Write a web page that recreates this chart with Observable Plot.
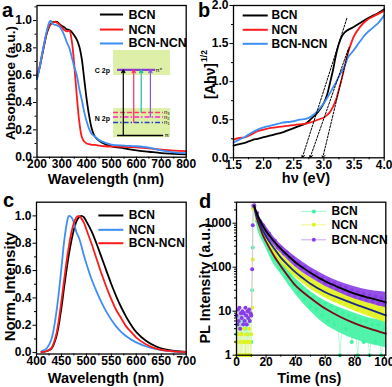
<!DOCTYPE html>
<html><head><meta charset="utf-8">
<script src="https://cdn.jsdelivr.net/npm/d3@7"></script>
<script src="https://cdn.jsdelivr.net/npm/@observablehq/plot@0.6"></script>
<style>
html,body{margin:0;padding:0;background:#fff;}
#fig{position:relative;width:392px;height:387px;overflow:hidden;background:#fff;}
.p{position:absolute;}
</style></head><body><div id="fig"></div>
<script>
// ---------- Panel a : UV-vis absorbance ----------
const seriesA = ["BCN", "NCN", "BCN-NCN"];
const wlA = [200,210,220,230,240,250,255,260,270,280,290,300,310,320,330,340,350,360,370,380,390,400,410,420,430,440,450,475,500,550,600,650,700,750,800];
const absBCN = [0.58,0.65,0.74,0.83,0.91,0.96,0.975,0.985,0.99,0.99,0.975,0.96,0.95,0.935,0.93,0.915,0.89,0.86,0.81,0.72,0.57,0.42,0.30,0.21,0.16,0.135,0.12,0.095,0.08,0.065,0.05,0.04,0.03,0.025,0.02];
const absNCN = [0.60,0.66,0.75,0.84,0.92,0.96,0.97,0.98,0.99,0.985,0.97,0.95,0.93,0.92,0.925,0.85,0.67,0.45,0.26,0.15,0.115,0.10,0.095,0.09,0.09,0.088,0.085,0.08,0.078,0.076,0.072,0.065,0.055,0.048,0.045];
const absBN  = [0.57,0.65,0.75,0.84,0.93,0.99,1.0,0.98,0.97,0.965,0.955,0.93,0.89,0.84,0.80,0.73,0.66,0.60,0.50,0.42,0.33,0.26,0.205,0.17,0.155,0.14,0.125,0.105,0.092,0.085,0.08,0.07,0.05,0.035,0.03];
// inset energy diagram (drawn in panel-a data units)
const insetBoxLabels = ["C 2p", "N 2p"];
const insetBoxTop = [0.781, 0.356], insetBoxBottom = [0.598, 0.144];
const levelNames = ["π*", "n₃", "n₂", "n₁", "π"];
const levelY = [0.639, 0.327, 0.294, 0.254, 0.159];
const arrowFromY = [0.159, 0.254, 0.327, 0.294];
const arrowX = [547, 589, 619, 656];

// ---------- Panel b : Tauc ----------
const seriesB = ["BCN", "NCN", "BCN-NCN"];
const eB = [1.5,1.6,1.7,1.8,1.9,2.0,2.1,2.2,2.3,2.4,2.5,2.6,2.7,2.8,2.9,3.0,3.05,3.1,3.15,3.2,3.25,3.3,3.35,3.4,3.45,3.5,3.6,3.7,3.8,3.9,4.0];
const taucBCN = [0.16,0.18,0.20,0.23,0.25,0.27,0.29,0.31,0.33,0.36,0.39,0.42,0.45,0.52,0.60,0.72,0.82,0.98,1.15,1.35,1.50,1.60,1.65,1.68,1.70,1.72,1.77,1.82,1.86,1.90,1.95];
const taucNCN = [0.24,0.26,0.27,0.31,0.35,0.37,0.39,0.40,0.41,0.42,0.43,0.44,0.45,0.47,0.50,0.53,0.56,0.60,0.67,0.76,0.90,1.05,1.22,1.38,1.50,1.60,1.72,1.80,1.85,1.89,1.93];
const taucBN  = [0.20,0.24,0.28,0.33,0.37,0.40,0.42,0.44,0.46,0.47,0.48,0.50,0.51,0.55,0.62,0.72,0.78,0.85,0.92,0.99,1.07,1.14,1.22,1.32,1.37,1.42,1.53,1.63,1.70,1.77,1.87];
const gapTopX = [3.38, 3.40, 3.42], gapTopY = [1.83, 1.42, 1.45];
const gapX = [2.64, 2.77, 2.98];

// ---------- Panel c : PL spectra ----------
const seriesC = ["BCN", "NCN", "BCN-NCN"];
const wlC = [410,420,430,440,450,455,460,465,470,475,480,485,490,495,500,510,520,530,540,550,560,570,580,590,600,620,640,660,680,700];
const plBCN = [0.005,0.01,0.03,0.12,0.33,0.47,0.60,0.72,0.82,0.90,0.96,0.99,1.0,0.99,0.96,0.89,0.80,0.70,0.60,0.50,0.41,0.33,0.26,0.20,0.15,0.085,0.045,0.022,0.01,0.005];
const plNCN = [0.01,0.03,0.10,0.30,0.62,0.80,0.93,1.0,0.99,0.95,0.88,0.84,0.78,0.71,0.65,0.54,0.45,0.37,0.30,0.24,0.19,0.15,0.12,0.095,0.075,0.045,0.025,0.013,0.007,0.003];
const plBN  = [0.005,0.01,0.035,0.14,0.38,0.52,0.66,0.78,0.88,0.95,0.99,1.0,0.98,0.95,0.90,0.80,0.69,0.58,0.48,0.39,0.31,0.25,0.19,0.15,0.11,0.06,0.03,0.015,0.007,0.003];

// ---------- Panel d : TRPL decay ----------
const seriesD = ["BCN", "NCN", "BCN-NCN"];
const tD = [0,0.5,1,1.5,2,2.5,3,3.5,4,4.5,5,5.5,6,6.5,7,7.5,8,8.5,9,9.5,10,10.6,11,11.4,12,14,16,18,20,22,24,26,28,30,32,34,36,38,40,42,44,46,48,50,52,54,56,58,60,62,64,66,68,70,72,74,76,78,80,82,84,86,88,90,92,94,96,98,100];
const cntBCN = [3,1,7,2,5,1,8,3,1,6,2,4,1,5,2,7,1,3,6,1,2, 30,280,2200, 2300,1100,830,470,410,260,250,150,150,90, 95,60,66,40,46,27,33,19,27,13, 21,11,17,8,15,6,13,5,11,1, 9,4,8,2,7,1,6,2,6,1, 5,2,5,1,4];
const cntNCN = [2,1,3,1,4,2,1,3,1,2,4,1,2,3,1,2,1,4,2,1,3, 12,150,2100, 2350,1250,1000,600,530,360,340,225,215,150, 150,108,108,80,82,60,64,48,51,38, 41,31,35,26,29,22,25,18,23,16, 20,15,18,13,16,11,15,10,13,9, 12,8,11,7,9];
const cntBN  = [8,5,11,6,12,4,9,7,10,5,9,6,12,8,5,10,7,11,6,9,8, 90,900,2500, 2550,1700,1100,900,620,580,420,400,280,280, 205,215,160,165,118,125,95,100,76,82, 62,68,52,57,44,49,38,43,33,38, 29,34,25,30,22,27,20,25,18,23, 17,22,15,20,15];
const tEnv = [12,15,20,25,30,40,50,60,70,80,90,101];
const envBCNhi = [2400,1000,450,230,140,55,28,17,12,9,7,6];
const envBCNlo = [2000,600,270,120,70,24,10,5,3.2,2.3,1.8,1.5];
const envNCNhi = [2500,1300,620,330,210,100,58,38,28,21,17,14];
const envNCNlo = [2200,850,380,200,125,58,32,20,14,10,7.5,5.5];
const envBNhi  = [2600,1500,850,500,330,170,100,65,46,36,30,27];
const envBNlo  = [2300,1000,520,320,210,100,58,37,26,19,15,12];
const tFit = [12,14,16,18,20,25,30,35,40,45,50,60,70,80,90,101];
const fitBN  = [2500,1600,1150,850,660,400,260,180,128,97,75,48,34,25,20,16];
const fitNCN = [2400,1400,950,660,500,280,165,110,76,56,42,27,19.5,14.5,11,8];
const fitBCN = [2400,1200,780,520,380,190,105,62,38,27,20,11.5,7.5,5.3,4,3.1];

// ---------- helpers ----------
const FONT = "'Liberation Sans', Arial, Helvetica, sans-serif";
const fig = document.getElementById("fig");
const zip = (xs, ys) => xs.map((x, i) => ({x, y: ys[i]}));
const f1 = d3.format(".1f");
function place(left, top, spec, texts) {
  const el = Plot.plot({...spec, style: {fontFamily: FONT, fontSize: "12px", fontWeight: "bold", background: "transparent", overflow: "visible", color: "black"}});
  const svg = d3.select(el);
  for (const t of texts) {
    svg.append("text")
      .attr("transform", `translate(${t.x},${t.y})` + (t.rotate ? ` rotate(${t.rotate})` : ""))
      .attr("text-anchor", t.anchor || "middle")
      .attr("dy", t.dy === undefined ? "0.35em" : t.dy)
      .attr("font-family", FONT).attr("font-weight", "bold")
      .attr("font-size", t.size).attr("fill", "black")
      .text(t.text);
  }
  const div = document.createElement("div");
  div.className = "p"; div.style.left = left + "px"; div.style.top = top + "px";
  div.appendChild(el); fig.appendChild(div);
}
function axes(xt, xm, yt, ym, xf, yf) {
  return [
    Plot.axisX({ticks: xm, tickSize: 2, tickFormat: () => "", label: null}),
    Plot.axisY({ticks: ym, tickSize: 2, tickFormat: () => "", label: null}),
    Plot.axisX({ticks: xt, tickSize: 3.5, tickFormat: () => "", label: null}),
    Plot.axisX({ticks: xt, tickSize: 0, tickPadding: 2.5, tickFormat: xf, label: null}),
    Plot.axisY({ticks: yt, tickSize: 3.5, tickPadding: 1.5, tickFormat: yf, label: null}),
    Plot.frame({strokeWidth: 1.3})
  ];
}

// ---------- Panel a ----------
place(0, 0, {
  width: 196, height: 193, marginLeft: 36.5, marginRight: 10.3, marginTop: 5, marginBottom: 36.3,
  x: {domain: [200, 800]}, y: {domain: [0, 1.11]},
  marks: [
    Plot.rect(insetBoxLabels, {x1: 508, x2: 737, y1: (d, i) => insetBoxBottom[i], y2: (d, i) => insetBoxTop[i], fill: "#def0a8"}),
    Plot.text(insetBoxLabels, {x: 463, y: (d, i) => i === 0 ? 0.634 : 0.283, text: d => d, fontSize: 7, fontWeight: "bold"}),
    Plot.ruleY([levelY[0]], {x1: 524, x2: 677, stroke: "#8a3fd0", strokeWidth: 2.2}),
    Plot.ruleY([levelY[1]], {x1: 508, x2: 709, stroke: "#ff3a6a", strokeWidth: 1.6, strokeDasharray: "5,2"}),
    Plot.ruleY([levelY[2]], {x1: 508, x2: 709, stroke: "#ff22cc", strokeWidth: 1.6, strokeDasharray: "5,2,1.5,2"}),
    Plot.ruleY([levelY[3]], {x1: 508, x2: 709, stroke: "#2040c0", strokeWidth: 1.6, strokeDasharray: "5,2,1.5,2"}),
    Plot.ruleY([levelY[4]], {x1: 524, x2: 709, stroke: "black", strokeWidth: 1.6}),
    Plot.arrow(arrowX, {x1: d => d, x2: d => d, y1: (d, i) => arrowFromY[i], y2: levelY[0], stroke: (d, i) => ["#000000", "#ff2a6a", "#22b8a8", "#8a5ad8"][i], strokeWidth: 1.2, headLength: 4}),
    Plot.text(levelNames, {x: (d, i) => i === 0 ? 690 : 722, y: (d, i) => levelY[i], text: d => d, fontSize: 6, fontWeight: "normal"}),
    Plot.line(zip(wlA, absBCN), {x: "x", y: "y", stroke: "black", strokeWidth: 1.8, curve: "catmull-rom"}),
    Plot.line(zip(wlA, absNCN), {x: "x", y: "y", stroke: "#ff1a1a", strokeWidth: 1.8, curve: "catmull-rom"}),
    Plot.line(zip(wlA, absBN), {x: "x", y: "y", stroke: "#3d8ef5", strokeWidth: 1.8, curve: "catmull-rom"}),
    Plot.ruleY([1.044], {x1: 455, x2: 548, stroke: "black", strokeWidth: 2}),
    Plot.ruleY([0.934], {x1: 455, x2: 548, stroke: "#ff1a1a", strokeWidth: 2}),
    Plot.ruleY([0.832], {x1: 455, x2: 548, stroke: "#3d8ef5", strokeWidth: 2}),
    Plot.text(seriesA, {x: 568, y: (d, i) => [1.044, 0.934, 0.832][i], text: d => d, textAnchor: "start", fontSize: 12.5, fontWeight: "bold"}),
    ...axes([200,300,400,500,600,700,800], [250,350,450,550,650,750], [0,0.2,0.4,0.6,0.8,1.0], [0.1,0.3,0.5,0.7,0.9,1.1], d3.format("d"), f1)
  ]
}, [
  {text: "Wavelength (nm)", x: 106, y: 178.5, size: 14.5},
  {text: "Absorbance (a.u.)", x: 10, y: 83, rotate: -90, size: 13.5},
  {text: "a", x: 2, y: 17, anchor: "start", dy: 0, size: 20}
]);

// ---------- Panel b ----------
place(196, 0, {
  width: 196, height: 193, marginLeft: 37, marginRight: 8.3, marginTop: 5, marginBottom: 35.7,
  x: {domain: [1.5, 4]}, y: {domain: [0, 2]},
  marks: [
    Plot.line(zip(eB, taucBCN), {x: "x", y: "y", stroke: "black", strokeWidth: 1.8, curve: "catmull-rom"}),
    Plot.line(zip(eB, taucNCN), {x: "x", y: "y", stroke: "#ff1a1a", strokeWidth: 1.8, curve: "catmull-rom"}),
    Plot.line(zip(eB, taucBN), {x: "x", y: "y", stroke: "#3d8ef5", strokeWidth: 1.8, curve: "catmull-rom"}),
    Plot.arrow(gapX, {x1: (d, i) => gapTopX[i], y1: (d, i) => gapTopY[i], x2: d => d, y2: 0, stroke: "black", strokeWidth: 1, strokeDasharray: "2,1.5", headLength: 5}),
    Plot.ruleY([1.869], {x1: 1.661, x2: 2.076, stroke: "black", strokeWidth: 2}),
    Plot.ruleY([1.681], {x1: 1.661, x2: 2.076, stroke: "#ff1a1a", strokeWidth: 2}),
    Plot.ruleY([1.497], {x1: 1.661, x2: 2.076, stroke: "#3d8ef5", strokeWidth: 2}),
    Plot.text(seriesB, {x: 2.13, y: (d, i) => [1.869, 1.681, 1.497][i], text: d => d, textAnchor: "start", fontSize: 12, fontWeight: "bold"}),
    ...axes([1.5,2,2.5,3,3.5,4], [1.75,2.25,2.75,3.25,3.75], [0,0.5,1,1.5,2], [0.25,0.75,1.25,1.75], f1, f1)
  ]
}, [
  {text: "hν (eV)", x: 110, y: 178.3, size: 14.5},
  {text: "[Ahν]", x: 14, y: 81, rotate: -90, size: 14},
  {text: "1/2", x: 8.5, y: 56, rotate: -90, size: 8.5},
  {text: "b", x: 2, y: 17, anchor: "start", dy: 0, size: 20}
]);

// ---------- Panel c ----------
place(0, 193, {
  width: 196, height: 194, marginLeft: 36, marginRight: 10.3, marginTop: 8.7, marginBottom: 33.5,
  x: {domain: [400, 700]}, y: {domain: [-0.01, 1.1]},
  marks: [
    Plot.line(zip(wlC, plBCN), {x: "x", y: "y", stroke: "black", strokeWidth: 1.8, curve: "catmull-rom"}),
    Plot.line(zip(wlC, plNCN), {x: "x", y: "y", stroke: "#3d8ef5", strokeWidth: 1.8, curve: "catmull-rom"}),
    Plot.line(zip(wlC, plBN), {x: "x", y: "y", stroke: "#ff1a1a", strokeWidth: 1.8, curve: "catmull-rom"}),
    Plot.ruleY([1.003], {x1: 525, x2: 575, stroke: "black", strokeWidth: 2}),
    Plot.ruleY([0.898], {x1: 525, x2: 575, stroke: "#3d8ef5", strokeWidth: 2}),
    Plot.ruleY([0.80], {x1: 525, x2: 575, stroke: "#ff1a1a", strokeWidth: 2}),
    Plot.text(seriesC, {x: 585, y: (d, i) => [1.003, 0.898, 0.80][i], text: d => d, textAnchor: "start", fontSize: 12, fontWeight: "bold"}),
    ...axes([400,450,500,550,600,650,700], [425,475,525,575,625,675], [0,0.2,0.4,0.6,0.8,1.0], [0.1,0.3,0.5,0.7,0.9], d3.format("d"), f1)
  ]
}, [
  {text: "Wavelength (nm)", x: 106, y: 185.3, size: 14.5},
  {text: "Norm. Intensity", x: 10, y: 93.7, rotate: -90, size: 15},
  {text: "c", x: 3, y: 13.7, anchor: "start", dy: 0, size: 20}
]);

// ---------- Panel d ----------
const colD = ["#3ff2a2", "#e2f21e", "#8a3de6"];
const lightD = ["#a8f8d0", "#f2f8a0", "#d0b8f0"];
const cntD = [cntBCN, cntNCN, cntBN];
const envD = [[envBCNlo, envBCNhi], [envNCNlo, envNCNhi], [envBNlo, envBNhi]];
const marksD = [];
for (let k = 0; k < 3; k++) {
  marksD.push(Plot.line(zip(tD, cntD[k]), {x: "x", y: "y", stroke: lightD[k], strokeWidth: 0.8}));
  marksD.push(Plot.areaY(tEnv, {x: d => d, y1: (d, i) => envD[k][0][i], y2: (d, i) => envD[k][1][i], fill: colD[k], fillOpacity: 0.9, curve: "catmull-rom"}));
  marksD.push(Plot.dot(zip(tD, cntD[k]), {x: "x", y: "y", r: 2, fill: colD[k], stroke: null}));
}
place(196, 193, {
  width: 196, height: 194, marginLeft: 40, marginRight: 6.7, marginTop: 8.7, marginBottom: 32.3,
  x: {domain: [0, 101]}, y: {type: "log", domain: [1, 3000]},
  marks: [
    ...marksD,
    Plot.line(zip(tFit, fitBCN), {x: "x", y: "y", stroke: "#7a0a14", strokeWidth: 1.8, curve: "catmull-rom"}),
    Plot.line(zip(tFit, fitNCN), {x: "x", y: "y", stroke: "#1a2a8a", strokeWidth: 1.8, curve: "catmull-rom"}),
    Plot.line(zip(tFit, fitBN), {x: "x", y: "y", stroke: "black", strokeWidth: 1.8, curve: "catmull-rom"}),
    Plot.ruleY([1846, 920, 420], {x1: 44, x2: 61, stroke: (d, i) => lightD[i], strokeWidth: 1.2}),
    Plot.dot([1846, 920, 420], {x: 52.3, y: d => d, r: 2, fill: (d, i) => colD[i]}),
    Plot.text(seriesD, {x: 64.3, y: (d, i) => [1846, 920, 420][i], text: d => d, textAnchor: "start", fontSize: 12, fontWeight: "bold"}),
    ...axes([0,20,40,60,80,100], [10,30,50,70,90], [1,10,100,1000], [2,3,4,5,6,7,8,9,20,30,40,50,60,70,80,90,200,300,400,500,600,700,800,900,2000,3000], d3.format("d"), d3.format("d"))
  ]
}, [
  {text: "Time (ns)", x: 113.3, y: 185.3, size: 14.5},
  {text: "PL Intensity (a.u.)", x: 9.3, y: 90.3, rotate: -90, size: 14.5},
  {text: "d", x: 3, y: 15.3, anchor: "start", dy: 0, size: 20}
]);
</script></body></html>
